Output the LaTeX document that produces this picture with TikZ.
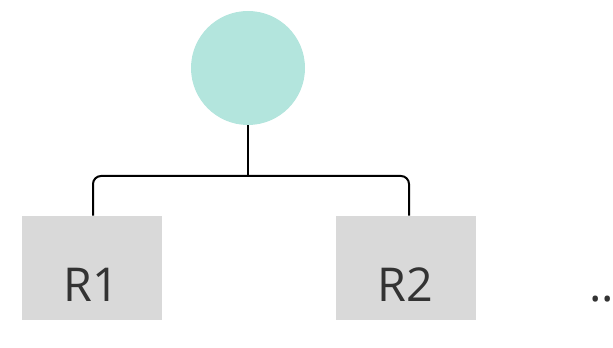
\documentclass[tikz,border=0pt]{standalone}
\usepackage{fontspec}
\setmainfont{Open Sans}
\begin{document}
\begin{tikzpicture}[x=0.75pt,y=-0.75pt,
  rootnode/.style={circle,fill=root,minimum size=114*0.75pt,inner sep=0pt},
  rolebox/.style={fill=boxgray,minimum width=140*0.75pt,minimum height=104*0.75pt,inner sep=0pt},
  rolelabel/.style={font=\fontsize{35}{42}\selectfont,text=labelgray,inner sep=0pt,anchor=base},
  link/.style={line width=1.5pt,black,rounded corners=6pt}]
\definecolor{root}{HTML}{B3E5DD}
\definecolor{boxgray}{HTML}{D9D9D9}
\definecolor{labelgray}{HTML}{333333}
\useasboundingbox (0,0) rectangle (613,348);
\node[rootnode] (top) at (248,68) {};
\node[rolebox] (r1) at (92,268) {};
\node[rolebox] (r2) at (406,268) {};
\node[rolelabel] (r1text) at (91,302) {R1};
\node[rolelabel] (r2text) at (405,302) {R2};
\node[rolelabel,anchor=base west] (more) at (589,302) {..};
\coordinate (fork) at (248,176);
\draw[link] (top.south) -- (fork);
\draw[link] (r1.north -| 93,0) -- (93,176) -- (409,176) -- (r2.north -| 409,0);
\end{tikzpicture}
\end{document}
